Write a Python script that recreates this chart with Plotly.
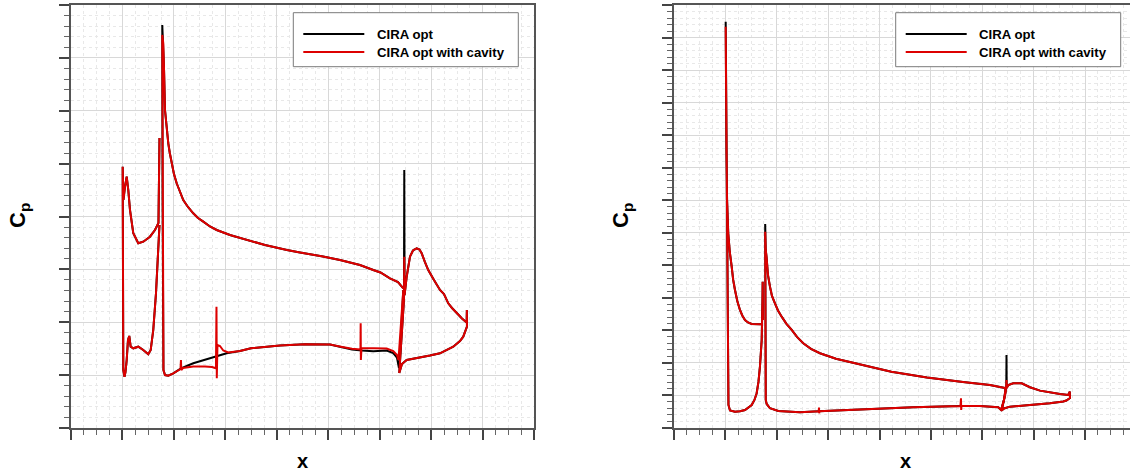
import plotly.graph_objects as go

# ================= LEFT PANEL (x/c, Cp) =================
# Slat (identical for both configurations)
L_SLAT_X = [0.0719, 0.0699, 0.0631, 0.0534, 0.0404, 0.0307, 0.0210, 0.0146, 0.0113, 0.0082,
            0.0049, 0.0019, 0.0004, 0.0004, 0.0016, 0.0039, 0.0058, 0.0082, 0.0107, 0.0132,
            0.0159, 0.0210, 0.0307, 0.0404, 0.0501, 0.0548, 0.0573, 0.0598, 0.0651, 0.0684,
            0.0709, 0.0719]
L_SLAT_CP = [-3.485, -1.877, -1.745, -1.618, -1.523, -1.493, -1.682, -2.123, -2.501, -2.753,
             -2.564, -2.312, -2.942, -0.421, 0.903, 1.030, 0.941, 0.714, 0.336, 0.260,
             0.462, 0.493, 0.462, 0.525, 0.606, 0.525, 0.336, 0.147, -0.548, -1.177,
             -1.618, -1.839]

# Main element, upper surface (TE -> LE) + leading edge down to stagnation
L_MAIN_UP_X = [0.5455, 0.5352, 0.5196, 0.5012, 0.4872, 0.4613, 0.4225, 0.3895, 0.3448, 0.3195,
               0.2768, 0.2477, 0.2347, 0.2088, 0.1830, 0.1700, 0.1570, 0.1467, 0.1375, 0.1272,
               0.1181, 0.1107, 0.1053, 0.1000, 0.0956, 0.0919, 0.0890, 0.0859, 0.0826, 0.0806,
               0.0793]
L_MAIN_UP_CP = [-0.642, -0.761, -0.831, -0.941, -0.988, -1.083, -1.177, -1.244, -1.319, -1.366,
                -1.461, -1.546, -1.588, -1.650, -1.745, -1.811, -1.902, -1.972, -2.061, -2.180,
                -2.312, -2.482, -2.628, -2.804, -3.006, -3.201, -3.384, -3.636, -4.014, -4.833,
                -5.276]
L_MAIN_PEAK_X = 0.0773
L_MAIN_PEAK_OPT = -5.622
L_MAIN_PEAK_CAV = -5.433
L_MAIN_LE_X = [0.0779, 0.0787, 0.0796, 0.0826, 0.0890, 0.0987, 0.1078]
L_MAIN_LE_CP = [-2.312, 0.147, 0.903, 0.998, 1.011, 0.966, 0.913]

# Main element, lower surface
L_MAIN_LO_OPT_X = [0.1136, 0.1375, 0.1700, 0.1830, 0.2024, 0.2282, 0.2496, 0.3059, 0.3545, 0.4031,
                   0.4244, 0.4458, 0.4652, 0.4872, 0.5132, 0.5260, 0.5332, 0.5371, 0.5387, 0.5404,
                   0.5429, 0.5455]
L_MAIN_LO_OPT_CP = [0.871, 0.776, 0.682, 0.652, 0.587, 0.544, 0.493, 0.440, 0.417, 0.421,
                    0.462, 0.515, 0.534, 0.549, 0.534, 0.582, 0.667, 0.865, 0.714, 0.241,
                    -0.137, -0.610]
L_MAIN_LO_CAV_X = [0.1127, 0.1136, 0.1142, 0.1175, 0.1375, 0.1603, 0.1739, 0.1816, 0.1826, 0.1832,
                   0.1845, 0.1894, 0.1958, 0.2055, 0.2282, 0.2496, 0.3059, 0.3545, 0.4031, 0.4244,
                   0.4458, 0.4623, 0.4627, 0.4631, 0.4643, 0.4872, 0.5132, 0.5260, 0.5332, 0.5361,
                   0.5381, 0.5404, 0.5429, 0.5455]
L_MAIN_LO_CAV_CP = [0.884, 0.714, 0.903, 0.865, 0.837, 0.837, 0.846, 0.871, -0.294, 1.060,
                    0.430, 0.449, 0.534, 0.572, 0.544, 0.493, 0.440, 0.417, 0.421, 0.462,
                    0.502, 0.515, 0.020, 0.714, 0.487, 0.496, 0.496, 0.544, 0.619, 0.714,
                    0.430, 0.209, -0.137, -0.610]

# Flap
L_FLAP_A_X = [0.5377, 0.5400, 0.5439, 0.5468]
L_FLAP_A_CP = [0.960, 0.619, 0.147, -0.421]
L_FLAP_SPIKE_X = 0.5474
L_FLAP_SPIKE_OPT = -2.879
L_FLAP_SPIKE_CAV = -1.240
L_FLAP_B_X = [0.5480, 0.5521, 0.5585, 0.5643, 0.5715, 0.5769, 0.5812, 0.5876, 0.5940, 0.6051,
              0.6168, 0.6245, 0.6284, 0.6329, 0.6401, 0.6492, 0.6595, 0.6686, 0.6690, 0.6692,
              0.6620, 0.6556, 0.6426, 0.6284, 0.6168, 0.5973, 0.5843, 0.5682, 0.5521, 0.5429,
              0.5377]
L_FLAP_B_CP = [-0.515, -0.861, -1.240, -1.357, -1.399, -1.376, -1.304, -1.139, -0.988, -0.799,
               -0.610, -0.534, -0.459, -0.358, -0.270, -0.169, -0.071, 0.005, -0.232, 0.084,
               0.273, 0.355, 0.462, 0.534, 0.587, 0.629, 0.652, 0.682, 0.714, 0.790,
               0.960]

# ================= RIGHT PANEL (x/c, Cp) =================
R_SLAT_A_X = [0.0718, 0.0673, 0.0512, 0.0440, 0.0382, 0.0329, 0.0284, 0.0232, 0.0187, 0.0152,
              0.0123, 0.0086, 0.0056, 0.0033, 0.0021, 0.0012]
R_SLAT_A_CP = [-2.197, -2.188, -2.197, -2.243, -2.320, -2.458, -2.628, -2.904, -3.242, -3.549,
               -3.958, -4.410, -4.985, -6.008, -7.544, -9.696]
R_SLAT_PEAK_X = 0.0006
R_SLAT_PEAK_OPT = -11.487
R_SLAT_PEAK_CAV = -11.334
R_SLAT_B_X = [0.0012, 0.0025, 0.0037, 0.0045, 0.0060, 0.0090, 0.0154, 0.0187, 0.0284, 0.0382,
              0.0512, 0.0566, 0.0609, 0.0644, 0.0673, 0.0707, 0.0722, 0.0726, 0.0732]
R_SLAT_B_CP = [-9.081, -6.008, -2.935, -0.476, 0.292, 0.461, 0.492, 0.498, 0.486, 0.446,
               0.292, 0.138, -0.068, -0.415, -0.885, -1.706, -2.935, -3.497, -2.320]

R_MAIN_A_X = [0.5442, 0.5150, 0.4625, 0.4313, 0.3924, 0.3231, 0.2536, 0.2153, 0.1841, 0.1666,
              0.1516, 0.1394, 0.1291, 0.1189, 0.1096, 0.1024, 0.0965, 0.0907, 0.0868, 0.0829,
              0.0804, 0.0786]
R_MAIN_A_CP = [-0.230, -0.323, -0.415, -0.476, -0.553, -0.731, -0.990, -1.128, -1.297, -1.435,
               -1.604, -1.798, -2.013, -2.203, -2.422, -2.612, -2.833, -3.058, -3.344, -3.703,
               -4.216, -4.471]
R_MAIN_PEAK_X = 0.0775
R_MAIN_PEAK_OPT = -5.270
R_MAIN_PEAK_CAV = -5.034
R_MAIN_B_X = [0.0777, 0.0781, 0.0786, 0.0804, 0.0868, 0.1030, 0.1146, 0.1452, 0.1816]
R_MAIN_B_CP = [-2.935, -0.476, 0.138, 0.261, 0.393, 0.476, 0.492, 0.516, 0.486]
R_MAIN_SPIKE1_X = [0.1822, 0.1826, 0.1832]
R_MAIN_SPIKE1_CP = [0.375, 0.547, 0.483]
R_MAIN_C_X = [0.2100, 0.2620, 0.3009, 0.3657, 0.4576]
R_MAIN_C_CP = [0.467, 0.430, 0.393, 0.363, 0.323]
R_MAIN_SPIKE2_X = [0.4586, 0.4590, 0.4596]
R_MAIN_SPIKE2_CP = [0.086, 0.446, 0.323]
R_MAIN_D_X = [0.4956, 0.5312, 0.5365, 0.5423, 0.5452, 0.5442]
R_MAIN_D_CP = [0.323, 0.363, 0.446, 0.138, -0.169, -0.230]

R_FLAP_A_X = [0.5378, 0.5413, 0.5452, 0.5468]
R_FLAP_A_CP = [0.461, 0.230, -0.077, -0.323]
R_FLAP_SPIKE_X = 0.5472
R_FLAP_SPIKE_OPT = -1.245
R_FLAP_SPIKE_CAV = -0.476
R_FLAP_B_X = [0.5476, 0.5507, 0.5604, 0.5767, 0.5929, 0.6124, 0.6318, 0.6513, 0.6674, 0.6704,
              0.6708, 0.6637, 0.6577, 0.6318, 0.5929, 0.5540, 0.5423, 0.5378]
R_FLAP_B_CP = [-0.230, -0.323, -0.375, -0.375, -0.252, -0.148, -0.086, -0.046, -0.015, -0.117,
               0.077, 0.154, 0.184, 0.240, 0.292, 0.344, 0.400, 0.461]

SERIES = ["CIRA opt", "CIRA opt with cavity"]
COLORS = ["#000000", "#dd0000"]

W, H = 1130, 474


def join(*parts):
    xs, ys = [], []
    for i, (px, py) in enumerate(parts):
        if i:
            xs.append(None)
            ys.append(None)
        xs += list(px)
        ys += list(py)
    return xs, ys


def left_curve(cav):
    peak = L_MAIN_PEAK_CAV if cav else L_MAIN_PEAK_OPT
    spike = L_FLAP_SPIKE_CAV if cav else L_FLAP_SPIKE_OPT
    lo_x = L_MAIN_LO_CAV_X if cav else L_MAIN_LO_OPT_X
    lo_cp = L_MAIN_LO_CAV_CP if cav else L_MAIN_LO_OPT_CP
    main_x = L_MAIN_UP_X + [L_MAIN_PEAK_X] + L_MAIN_LE_X + lo_x
    main_cp = L_MAIN_UP_CP + [peak] + L_MAIN_LE_CP + lo_cp
    flap_x = L_FLAP_A_X + [L_FLAP_SPIKE_X] + L_FLAP_B_X
    flap_cp = L_FLAP_A_CP + [spike] + L_FLAP_B_CP
    return join((L_SLAT_X, L_SLAT_CP), (main_x, main_cp), (flap_x, flap_cp))


def right_curve(cav):
    sp = R_SLAT_PEAK_CAV if cav else R_SLAT_PEAK_OPT
    mp = R_MAIN_PEAK_CAV if cav else R_MAIN_PEAK_OPT
    fs = R_FLAP_SPIKE_CAV if cav else R_FLAP_SPIKE_OPT
    slat_x = R_SLAT_A_X + [R_SLAT_PEAK_X] + R_SLAT_B_X
    slat_cp = R_SLAT_A_CP + [sp] + R_SLAT_B_CP
    if cav:
        main_x = R_MAIN_A_X + [R_MAIN_PEAK_X] + R_MAIN_B_X + R_MAIN_SPIKE1_X + R_MAIN_C_X + R_MAIN_SPIKE2_X + R_MAIN_D_X
        main_cp = R_MAIN_A_CP + [mp] + R_MAIN_B_CP + R_MAIN_SPIKE1_CP + R_MAIN_C_CP + R_MAIN_SPIKE2_CP + R_MAIN_D_CP
    else:
        main_x = R_MAIN_A_X + [R_MAIN_PEAK_X] + R_MAIN_B_X + R_MAIN_C_X + R_MAIN_D_X
        main_cp = R_MAIN_A_CP + [mp] + R_MAIN_B_CP + R_MAIN_C_CP + R_MAIN_D_CP
    flap_x = R_FLAP_A_X + [R_FLAP_SPIKE_X] + R_FLAP_B_X
    flap_cp = R_FLAP_A_CP + [fs] + R_FLAP_B_CP
    return join((slat_x, slat_cp), (main_x, main_cp), (flap_x, flap_cp))


fig = go.Figure()
for i, (name, col) in enumerate(zip(SERIES, COLORS)):
    xs, ys = left_curve(i == 1)
    fig.add_trace(go.Scatter(x=xs, y=ys, mode="lines", name=name, legendgroup=name,
                             line=dict(color=col, width=2), xaxis="x", yaxis="y",
                             showlegend=False, hoverinfo="skip"))
    xs, ys = right_curve(i == 1)
    fig.add_trace(go.Scatter(x=xs, y=ys, mode="lines", name=name, legendgroup=name,
                             line=dict(color=col, width=2), xaxis="x2", yaxis="y2",
                             showlegend=False, hoverinfo="skip"))


def px_x(p):
    return p / W


def px_y(p):
    return 1 - p / H


AX_COL = "#555555"
common = dict(showticklabels=False, ticks="outside", ticklen=10, tickwidth=1.5, tickcolor="#444444",
              showline=True, linecolor=AX_COL, linewidth=1.5, showgrid=True, gridcolor="#d8d8d8",
              gridwidth=1, zeroline=False)
minor_x = dict(dtick=0.025, ticks="outside", ticklen=5, tickwidth=1, tickcolor="#666666",
               showgrid=True, gridcolor="#e8e8e8", griddash="dot", gridwidth=1)
minor_y = dict(dtick=0.2, ticks="outside", ticklen=5, tickwidth=1, tickcolor="#666666",
               showgrid=True, gridcolor="#e8e8e8", griddash="dot", gridwidth=1)

ydom = [px_y(428), px_y(5)]
fig.update_layout(
    width=W, height=H, margin=dict(l=0, r=0, t=0, b=0),
    paper_bgcolor="white", plot_bgcolor="white", showlegend=False,
    font=dict(family="Liberation Sans, Arial, sans-serif", color="black"),
    xaxis=dict(domain=[px_x(71), px_x(534.3)], range=[-0.1, 0.8], tick0=0, dtick=0.1,
               anchor="y", mirror=True, minor=minor_x, **common),
    yaxis=dict(domain=ydom, range=[2, -6], tick0=0, dtick=1, anchor="x", mirror=True,
               minor=minor_y, **common),
    xaxis2=dict(domain=[px_x(674), 1.0], range=[-0.1, 0.7876], tick0=0, dtick=0.1,
                anchor="y2", mirror=True, minor=minor_x, **common),
    yaxis2=dict(domain=ydom, range=[1, -12], tick0=0, dtick=1, anchor="x2", mirror=False,
                minor=minor_y, **common),
)

annotations = []
shapes = []
# axis titles
for cx, cy in [(302.5, 461), (905, 461)]:
    annotations.append(dict(text="<b>x</b>", x=px_x(cx), y=px_y(cy), xref="paper", yref="paper",
                            showarrow=False, xanchor="center", yanchor="middle",
                            font=dict(size=20, color="black")))
for cx in [19, 622]:
    annotations.append(dict(text="<b>C<sub>p</sub></b>", x=px_x(cx), y=px_y(216), xref="paper",
                            yref="paper", showarrow=False, xanchor="center", yanchor="middle",
                            textangle=-90, font=dict(size=22, color="black")))

# legend boxes (one per panel)
for bx in [293.3, 895.7]:
    shapes.append(dict(type="rect", xref="paper", yref="paper", x0=px_x(bx), x1=px_x(bx + 225),
                       y0=px_y(66.7), y1=px_y(12.7), line=dict(color="#7a7a7a", width=1),
                       fillcolor="white", layer="above"))
    for (ly, name, col) in [(34, SERIES[0], COLORS[0]), (52, SERIES[1], COLORS[1])]:
        shapes.append(dict(type="line", xref="paper", yref="paper", x0=px_x(bx + 10),
                           x1=px_x(bx + 71), y0=px_y(ly), y1=px_y(ly),
                           line=dict(color=col, width=2), layer="above"))
        annotations.append(dict(text="<b>" + name + "</b>", x=px_x(bx + 81.5), y=px_y(ly + 0.5),
                                xref="paper", yref="paper", showarrow=False, xanchor="left",
                                yanchor="middle", font=dict(size=13.2, color="black")))

fig.update_layout(annotations=annotations, shapes=shapes)
# remove the default 8px page margin so the 1130x474 figure fills the window exactly
fig.write_html("out.html", config={"displayModeBar": False},
               post_script="document.body.style.margin='0';document.body.style.overflow='hidden';")
